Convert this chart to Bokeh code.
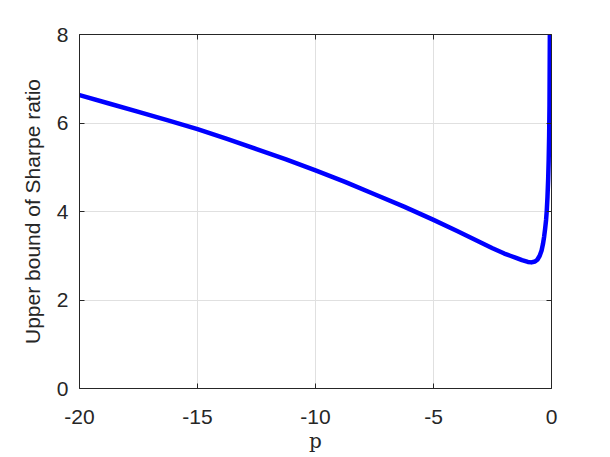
from bokeh.plotting import figure
from bokeh.models import LinearAxis, Range1d, FixedTicker, CustomJSTickFormatter
from bokeh.embed import file_html
from bokeh.resources import INLINE

p_vals = [-20, -18.75, -17.5, -16.25, -15, -13.75, -12.5, -11.25, -10, -8.75,
          -7.5, -6.25, -5, -4, -3, -2.5, -2, -1.75, -1.5, -1.25, -1,
          -0.85, -0.7, -0.6, -0.5, -0.42, -0.36, -0.31, -0.27, -0.23, -0.2, -0.17,
          -0.14, -0.12, -0.1, -0.085, -0.07]
upper_bound = [6.63, 6.44, 6.25, 6.06, 5.86, 5.64, 5.41, 5.18, 4.93, 4.67,
               4.39, 4.11, 3.81, 3.56, 3.30, 3.17, 3.05, 3.00, 2.95, 2.90, 2.86,
               2.85, 2.87, 2.91, 3.00, 3.12, 3.27, 3.44, 3.61, 3.81, 4.02, 4.33,
               4.75, 5.15, 5.7, 6.4, 8.0]
x_ticks = [-20, -15, -10, -5, 0]
y_ticks = [0, 2, 4, 6, 8]

AX = "#262626"
FONT = "Liberation Sans"

p = figure(width=610, height=457, frame_width=472, frame_height=354,
           x_range=Range1d(-20, 0), y_range=Range1d(0, 8),
           output_backend="svg", toolbar_location=None,
           min_border_left=79, min_border_top=34, min_border_right=59,
           min_border_bottom=69)
p.outline_line_color = None
p.background_fill_color = "white"

p.line(p_vals, upper_bound, line_color="#0000ff", line_width=4.5,
       line_join="round")

plain = CustomJSTickFormatter(code="return tick.toString();")
for ax in (p.xaxis[0], p.yaxis[0]):
    ax.formatter = plain
    ax.axis_line_color = AX
    ax.major_tick_line_color = AX
    ax.major_tick_in = 5
    ax.major_tick_out = 0
    ax.minor_tick_line_color = None
    ax.major_label_text_color = AX
    ax.major_label_text_font = FONT
    ax.major_label_text_font_size = "21px"
    ax.axis_label_text_color = AX
    ax.axis_label_text_font_style = "normal"

p.xaxis[0].ticker = FixedTicker(ticks=x_ticks)
p.yaxis[0].ticker = FixedTicker(ticks=y_ticks)
p.xaxis[0].major_label_standoff = 21
p.yaxis[0].major_label_standoff = 11
p.xaxis[0].axis_label = "p"
p.xaxis[0].axis_label_text_font = "DejaVu Serif"
p.xaxis[0].axis_label_text_font_size = "20px"
p.xaxis[0].axis_label_standoff = 2
p.yaxis[0].axis_label = "Upper bound of Sharpe ratio"
p.yaxis[0].axis_label_text_font = FONT
p.yaxis[0].axis_label_text_font_size = "21px"
p.yaxis[0].axis_label_standoff = 10

blank = CustomJSTickFormatter(code="return '';")
top = LinearAxis(ticker=FixedTicker(ticks=x_ticks), formatter=blank,
                 major_tick_in=5, major_tick_out=0, axis_line_color=AX,
                 major_tick_line_color=AX, minor_tick_line_color=None,
                 major_label_standoff=0)
right = LinearAxis(ticker=FixedTicker(ticks=y_ticks), formatter=blank,
                   major_tick_in=5, major_tick_out=0, axis_line_color=AX,
                   major_tick_line_color=AX, minor_tick_line_color=None,
                   major_label_standoff=0)
p.add_layout(top, "above")
p.add_layout(right, "right")

p.xgrid.ticker = FixedTicker(ticks=x_ticks)
p.ygrid.ticker = FixedTicker(ticks=y_ticks)
p.grid.grid_line_color = "#e0e0e0"
p.grid.grid_line_width = 1

open("out.html", "w").write(file_html(p, INLINE))
